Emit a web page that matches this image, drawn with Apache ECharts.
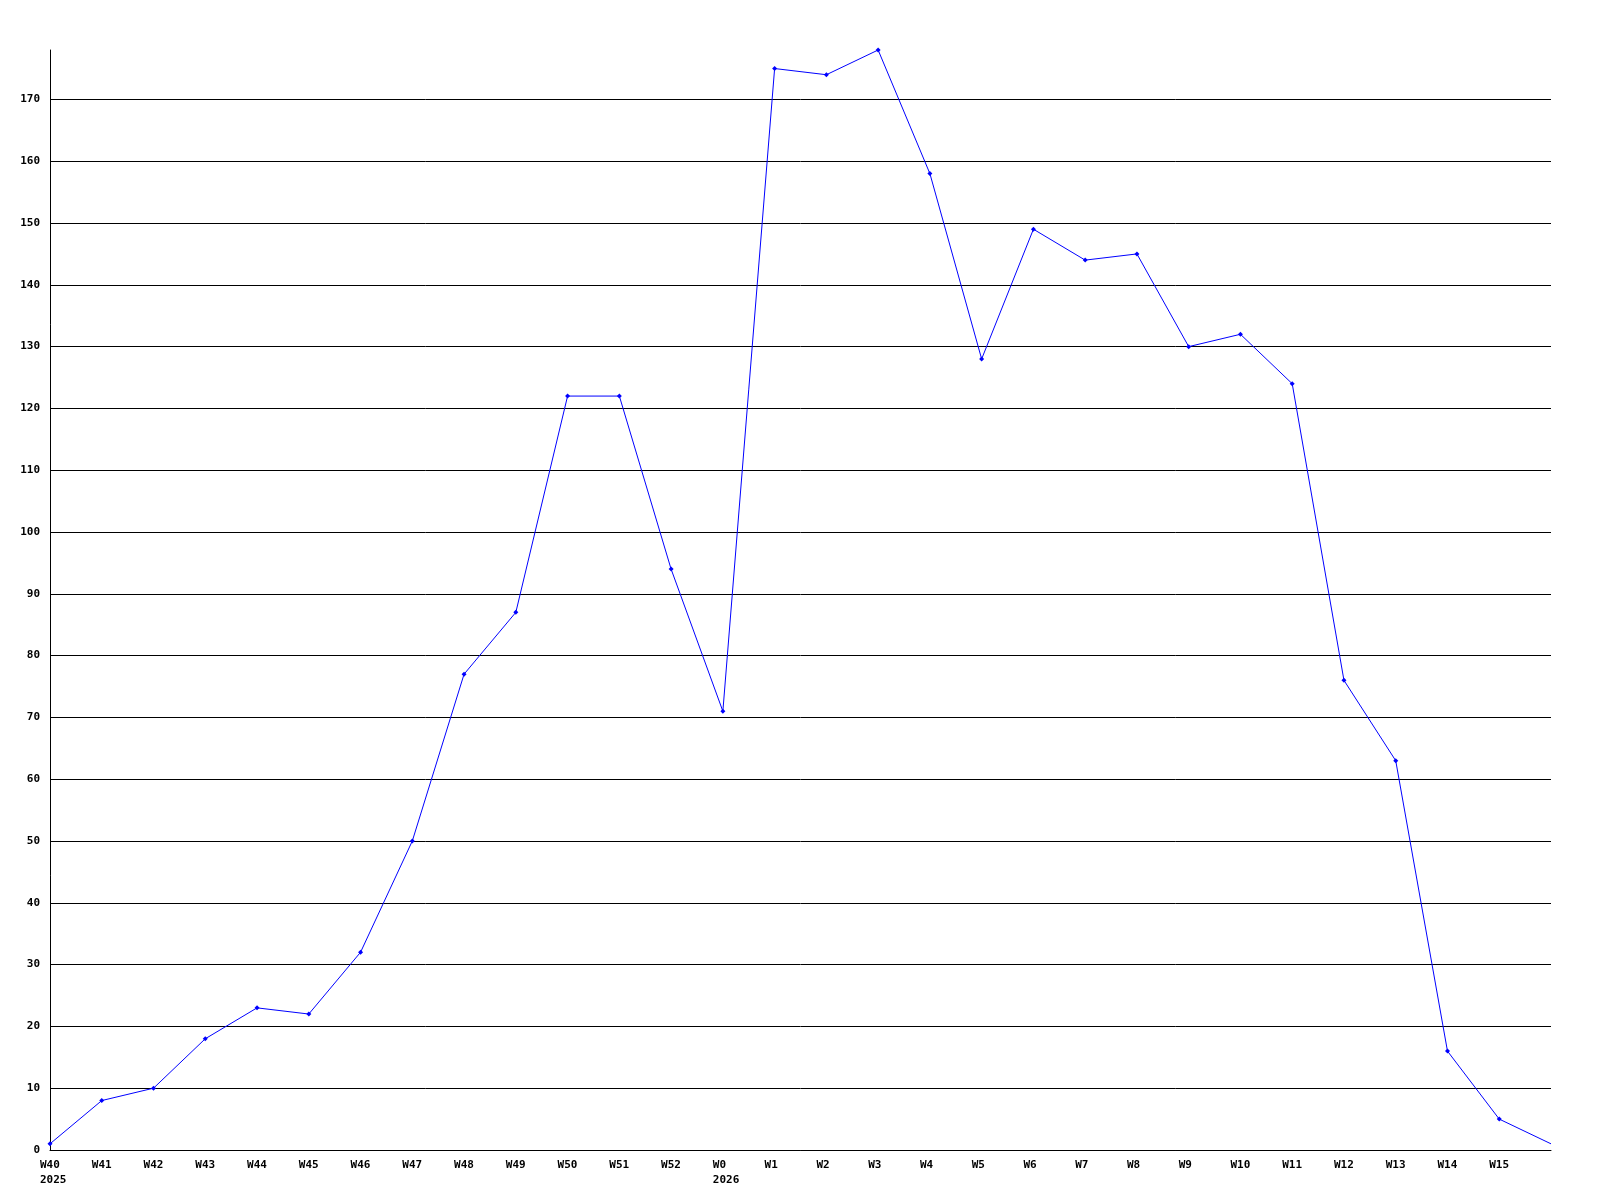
<!DOCTYPE html>
<html><head><meta charset="utf-8">
<script src="https://cdn.jsdelivr.net/npm/echarts@6/dist/echarts.min.js"></script>
<style>html,body{margin:0;padding:0;background:#fff}#c{width:1600px;height:1200px}</style>
</head><body><div id="c"></div>
<script>
const categories = ['W40','W41','W42','W43','W44','W45','W46','W47','W48','W49','W50','W51','W52','W0','W1','W2','W3','W4','W5','W6','W7','W8','W9','W10','W11','W12','W13','W14','W15','W16'];
const yearLabels = {'W40':'2025','W0':'2026'};
const values = [1,8,10,18,23,22,32,50,77,87,122,122,94,71,175,174,178,158,128,149,144,145,130,132,124,76,63,16,5,1];
const hiddenLabels = ['W16'];

const chart = echarts.init(document.getElementById('c'));
const font = 'DejaVu Sans Mono';
chart.setOption({
  animation:false,
  grid:{left:50,right:49,top:50,bottom:50,containLabel:false},
  xAxis:{type:'category',data:categories,boundaryGap:false,
    axisLine:{lineStyle:{color:'#000',width:1}},axisTick:{show:false},
    axisLabel:{interval:0,fontFamily:font,fontWeight:'bold',fontSize:11,color:'#000',align:'left',padding:[0,0,0,-10],margin:8,lineHeight:15,
      formatter:function(v){ if(hiddenLabels.indexOf(v)>=0) return ''; return yearLabels[v]? v+'\n'+yearLabels[v] : v; }},
    splitLine:{show:false}},
  yAxis:{type:'value',min:0,max:178,interval:10,
    axisLine:{show:true,lineStyle:{color:'#000',width:1}},axisTick:{show:false},
    axisLabel:{showMaxLabel:false,fontFamily:font,fontWeight:'bold',fontSize:11,color:'#000',margin:10},
    splitLine:{show:true,showMaxLine:false,lineStyle:{color:'#000',width:1}}},
  series:[{type:'line',data:values.map((v,i)=>i===values.length-1?{value:v,symbol:'none'}:v),
    lineStyle:{color:'#0000ff',width:1},itemStyle:{color:'#0000ff'},
    symbol:'diamond',symbolSize:5,showAllSymbol:true}]
});
</script></body></html>
